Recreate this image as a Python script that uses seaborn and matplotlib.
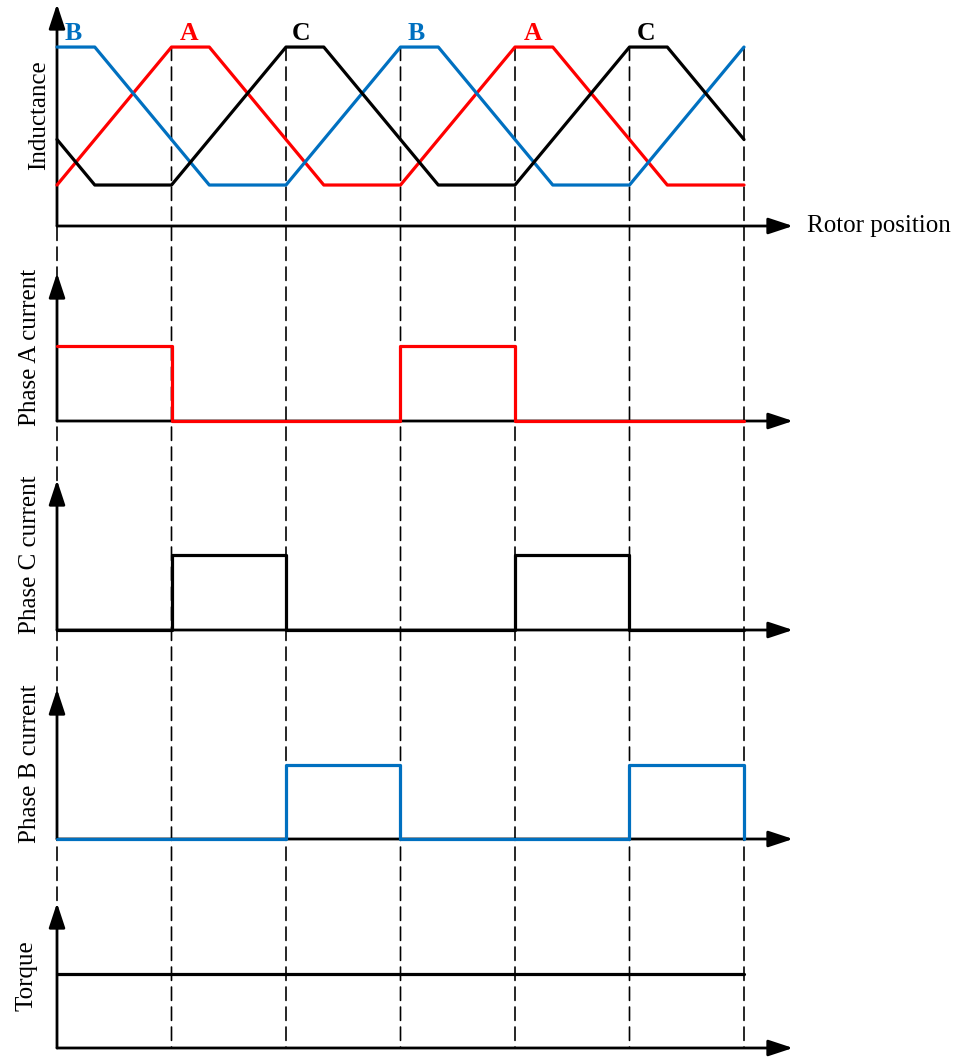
import matplotlib
matplotlib.use("Agg")
import matplotlib.pyplot as plt
from matplotlib.patches import ConnectionPatch
import seaborn as sns

# --- Data: rotor position measured in conduction intervals ---
boundaries = [0, 1, 2, 3, 4, 5, 6]

# inductance profiles (0 = L_min, 1 = L_max), corner points of the trapezoids
ind_a_x = [0, 1, 1.33, 2.33, 3, 4, 4.33, 5.33, 6]
ind_a_y = [0, 1, 1, 0, 0, 1, 1, 0, 0]
ind_b_x = [0, 0.33, 1.33, 2, 3, 3.33, 4.33, 5, 6]
ind_b_y = [1, 1, 0, 0, 1, 1, 0, 0, 1]
ind_c_x = [0, 0.33, 1, 2, 2.33, 3.33, 4, 5, 5.33, 6]
ind_c_y = [0.33, 0, 0, 1, 1, 0, 0, 1, 1, 0.33]

peak_names = ["B", "A", "C", "B", "A", "C"]
peak_x = [0.14, 1.15, 2.13, 3.14, 4.16, 5.14]

# phase currents (value held until the next point)
cur_a_x = [0, 1, 3, 4, 6]
cur_a_y = [1, 0, 1, 0, 0]
cur_c_x = [0, 1, 2, 4, 5, 6]
cur_c_y = [0, 1, 0, 1, 0, 0]
cur_b_x = [0, 2, 3, 5, 6]
cur_b_y = [0, 1, 0, 1, 0]
torque_x = [0, 6]
torque_y = [1, 1]

# --- Style ---
RED = "#FF0000"
BLUE = "#0070C0"
BLACK = "#000000"
phase_colors = {"A": RED, "B": BLUE, "C": BLACK}

sns.set_style("white")
plt.rcParams["font.family"] = ["Liberation Serif", "DejaVu Serif"]
plt.rcParams["text.color"] = BLACK
plt.rcParams["axes.labelcolor"] = BLACK

W, H = 958, 1057
X0, X1 = 57, 793          # pixel extent of the horizontal axes
UNIT = 114.5              # pixels per interval
X_END = (X1 - X0) / UNIT


def add_panel(fig, top_px, bottom_px):
    rect = [X0 / W, 1 - bottom_px / H, (X1 - X0) / W, (bottom_px - top_px) / H]
    return fig.add_axes(rect)


def setup(ax, ylim, label, label_px):
    ax.set_xlim(0, X_END)
    ax.set_ylim(*ylim)
    ax.set_xticks([])
    ax.set_yticks([])
    sns.despine(ax=ax, left=True, bottom=True)
    ax.patch.set_visible(False)
    arrow = dict(arrowstyle="-|>,head_length=1.0,head_width=0.33",
                 mutation_scale=15, color=BLACK, lw=2, shrinkA=0, shrinkB=0)
    ax.annotate("", xy=(1, 0), xytext=(0, 0), xycoords="axes fraction",
                arrowprops=arrow, annotation_clip=False, zorder=1)
    ax.annotate("", xy=(0, 1), xytext=(0, 0), xycoords="axes fraction",
                arrowprops=arrow, annotation_clip=False, zorder=1)
    ax.set_ylabel(label, fontsize=18)
    ax.yaxis.set_label_coords(-label_px / (X1 - X0), 0.5)


def line(ax, x, y, color, steps=False):
    kws = dict(drawstyle="steps-post") if steps else {}
    sns.lineplot(x=x, y=y, ax=ax, color=color, lw=2.3, estimator=None,
                 sort=False, clip_on=False, zorder=3, **kws)


fig = plt.figure(figsize=(W / 100, H / 100), dpi=100)

ax_ind = add_panel(fig, 4, 226)
ax_a = add_panel(fig, 273, 421)
ax_c = add_panel(fig, 480, 630)
ax_b = add_panel(fig, 689, 839)
ax_t = add_panel(fig, 903, 1048)

# --- Inductance ---
setup(ax_ind, (-0.297, 1.312), "Inductance", 7)
line(ax_ind, ind_a_x, ind_a_y, RED)
line(ax_ind, ind_b_x, ind_b_y, BLUE)
line(ax_ind, ind_c_x, ind_c_y, BLACK)
for name, px in zip(peak_names, peak_x):
    ax_ind.annotate(name, xy=(px, 1), xytext=(0, 1.5), textcoords="offset points",
                    ha="center", va="bottom", fontsize=18.5, fontweight="bold",
                    color=phase_colors[name])
ax_ind.text(1 + 14 / (X1 - X0), 0, "Rotor position", transform=ax_ind.transAxes,
            ha="left", va="center", fontsize=18)

# --- Currents and torque ---
setup(ax_a, (0, 1.97), "Phase A current", 16)
line(ax_a, cur_a_x, cur_a_y, RED, steps=True)

setup(ax_c, (0, 2.0), "Phase C current", 16)
line(ax_c, cur_c_x, cur_c_y, BLACK, steps=True)

setup(ax_b, (0, 2.03), "Phase B current", 16)
line(ax_b, cur_b_x, cur_b_y, BLUE, steps=True)

setup(ax_t, (0, 1.96), "Torque", 20)
line(ax_t, torque_x, torque_y, BLACK)

# --- Dashed commutation lines across all panels ---
for xb in boundaries:
    con = ConnectionPatch(xyA=(xb, 1), coordsA="data", axesA=ax_ind,
                          xyB=(xb, 0), coordsB="data", axesB=ax_t,
                          color=BLACK, lw=1.2, linestyle=(0, (8, 4)), zorder=-1)
    fig.add_artist(con)

fig.savefig("out.png", dpi=100)
